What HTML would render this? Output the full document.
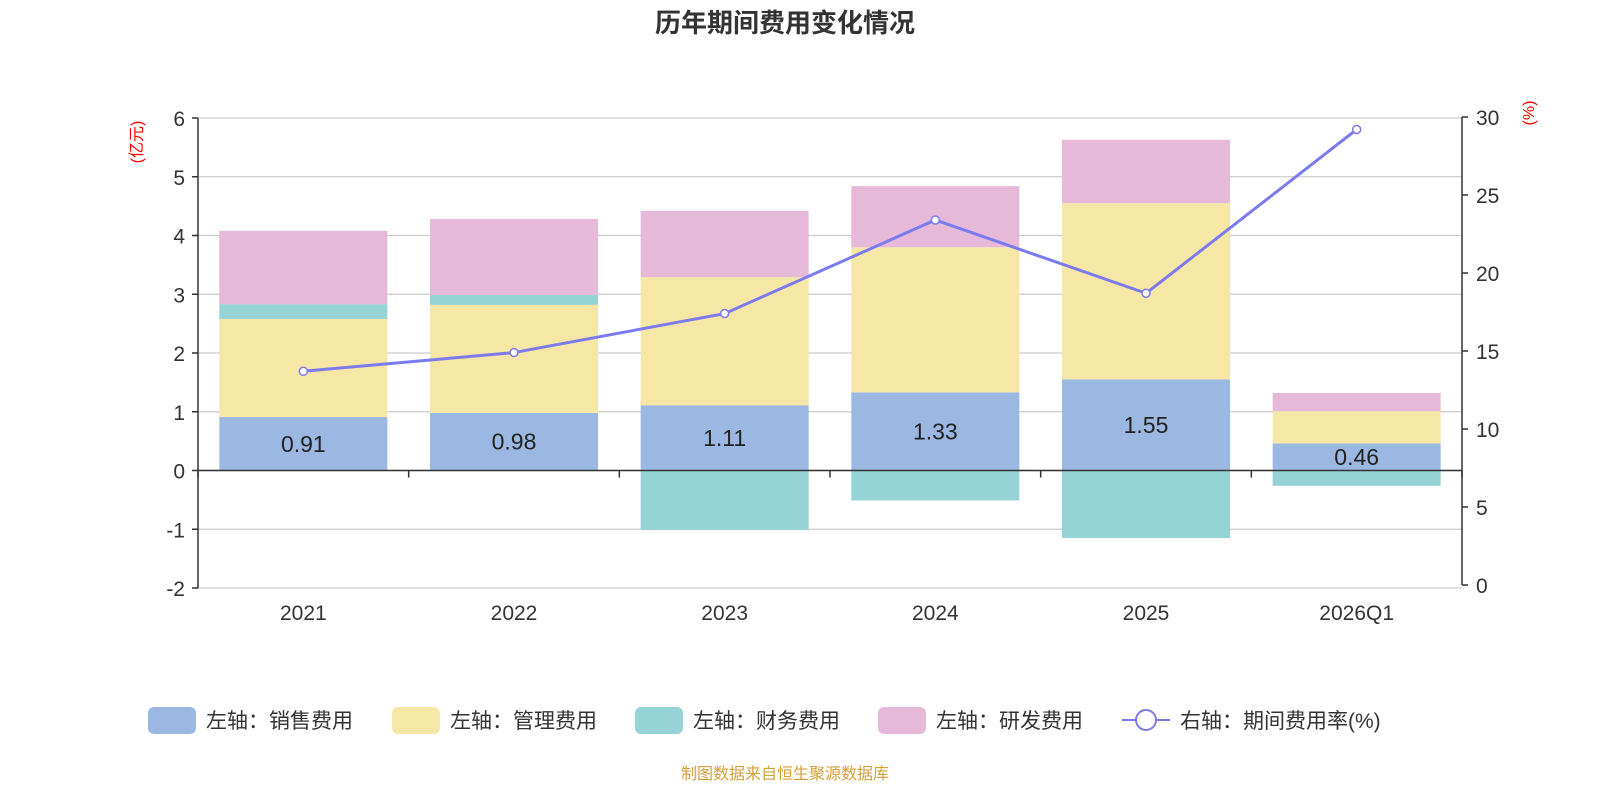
<!DOCTYPE html>
<html><head><meta charset="utf-8"><style>
body{margin:0;background:#fff;width:1600px;height:800px;overflow:hidden;font-family:"Liberation Sans","Noto Sans CJK SC",sans-serif}
</style></head><body>
<svg id="c" width="1600" height="800" xmlns="http://www.w3.org/2000/svg" font-family="Liberation Sans, Noto Sans CJK SC, sans-serif"></svg>
<script>
const categories=["2021","2022","2023","2024","2025","2026Q1"];
const sales=[0.91,0.98,1.11,1.33,1.55,0.46];
const mgmt=[1.67,1.84,2.18,2.47,3.00,0.55];
const finance=[0.25,0.17,-1.01,-0.51,-1.15,-0.26];
const rd=[1.25,1.29,1.13,1.04,1.08,0.31];
const rate=[13.7,14.9,17.4,23.4,18.7,29.2];
const leftTicks=[-2,-1,0,1,2,3,4,5,6];
const rightTicks=[0,5,10,15,20,25,30];
const NS="http://www.w3.org/2000/svg";
const svg=document.getElementById('c');
const X0=198,X1=1462,band=(X1-X0)/categories.length,bw=168;
const yL=v=>470.5-v*58.75;
const yR=v=>585-v*15.6;
const xc=i=>X0+band*(i+0.5);
function el(t,a,p){const e=document.createElementNS(NS,t);for(const k in a)e.setAttribute(k,a[k]);(p||svg).appendChild(e);return e;}
// title
let t=el('text',{x:785,y:32,'text-anchor':'middle','font-size':26,'font-weight':'bold',fill:'#333'});t.textContent='历年期间费用变化情况';

// grid + left ticks
leftTicks.forEach(v=>{const y=yL(v);
 const g=el('line',{x1:X0,x2:X1,y1:y,y2:y,stroke:'#ccc','stroke-width':1.2});
 
 el('line',{x1:192,x2:X0,y1:y,y2:y,stroke:'#333','stroke-width':1.5});
 const l=el('text',{x:185,y:y+8,'text-anchor':'end','font-size':21,fill:'#333'});l.textContent=v;
 
});
rightTicks.forEach(v=>{const y=yR(v);
 el('line',{x1:X1,x2:X1+6,y1:y,y2:y,stroke:'#333','stroke-width':1.5});
 const l=el('text',{x:1476,y:y+8,'font-size':21,fill:'#333'});l.textContent=v;
 
});
// axis titles
let a1=el('text',{transform:'translate(142,142) rotate(-90)','text-anchor':'middle','font-size':16,fill:'#f00'});a1.textContent='(亿元)';

let a2=el('text',{transform:'translate(1534,113) rotate(-90)','text-anchor':'middle','font-size':16,fill:'#f00'});a2.textContent='(%)';

// bars
const cols={sales:'#9bb8e2',mgmt:'#f7e7a6',finance:'#96d3d4',rd:'#e6b9d8'};
categories.forEach((c,i)=>{
 let pos=0,neg=0;
 [['sales',sales],['mgmt',mgmt],['finance',finance],['rd',rd]].forEach(([k,arr])=>{
  const v=arr[i];let a,b;
  if(v>=0){a=pos;b=pos+v;pos=b;}else{a=neg;b=neg+v;neg=b;}
  const r=el('rect',{x:xc(i)-bw/2,y:Math.min(yL(a),yL(b)),width:bw,height:Math.abs(yL(a)-yL(b)),fill:cols[k]});
  
 });
 const lb=el('text',{x:xc(i),y:(yL(0)+yL(sales[i]))/2+8,'text-anchor':'middle','font-size':23,fill:'#222'});lb.textContent=sales[i].toFixed(2);
 
 const cl=el('text',{x:xc(i),y:620,'text-anchor':'middle','font-size':21,fill:'#333'});cl.textContent=c;
 
});
// axes
el('line',{x1:X0,x2:X0,y1:yL(6),y2:yL(-2),stroke:'#333','stroke-width':1.5});
el('line',{x1:X1,x2:X1,y1:yR(30),y2:yR(0),stroke:'#333','stroke-width':1.5});
el('line',{x1:X0,x2:X1,y1:yL(0),y2:yL(0),stroke:'#333','stroke-width':1.5});
for(let i=0;i<=categories.length;i++){el('line',{x1:X0+band*i,x2:X0+band*i,y1:yL(0),y2:yL(0)+7,stroke:'#333','stroke-width':1.5});}
// line
const pl=el('polyline',{points:rate.map((v,i)=>xc(i)+','+yR(v)).join(' '),fill:'none',stroke:'#7b7bef','stroke-width':3});

rate.forEach((v,i)=>{const p=el('circle',{cx:xc(i),cy:yR(v),r:4,fill:'#fff',stroke:'#7b7bef','stroke-width':1.5});
 });
// legend
const leg=[['左轴：销售费用',cols.sales,148],['左轴：管理费用',cols.mgmt,392],['左轴：财务费用',cols.finance,635],['左轴：研发费用',cols.rd,878]];
leg.forEach(([n,c,x])=>{const g=el('g',{});
 el('rect',{x:x,y:707,width:48,height:27,rx:6,fill:c},g);
 const tt=el('text',{x:x+58,y:728,'font-size':21,fill:'#333'},g);tt.textContent=n;});
const g5=el('g',{});
el('line',{x1:1122,x2:1170,y1:720,y2:720,stroke:'#7b7bef','stroke-width':2},g5);
el('circle',{cx:1146,cy:720,r:10,fill:'#fff',stroke:'#7b7bef','stroke-width':2},g5);
const t5=el('text',{x:1180,y:728,'font-size':21,fill:'#333'},g5);t5.textContent='右轴：期间费用率(%)';
const src=el('text',{x:785,y:779,'text-anchor':'middle','font-size':16,fill:'#d4a03a'});src.textContent='制图数据来自恒生聚源数据库';

</script>
</body></html>
